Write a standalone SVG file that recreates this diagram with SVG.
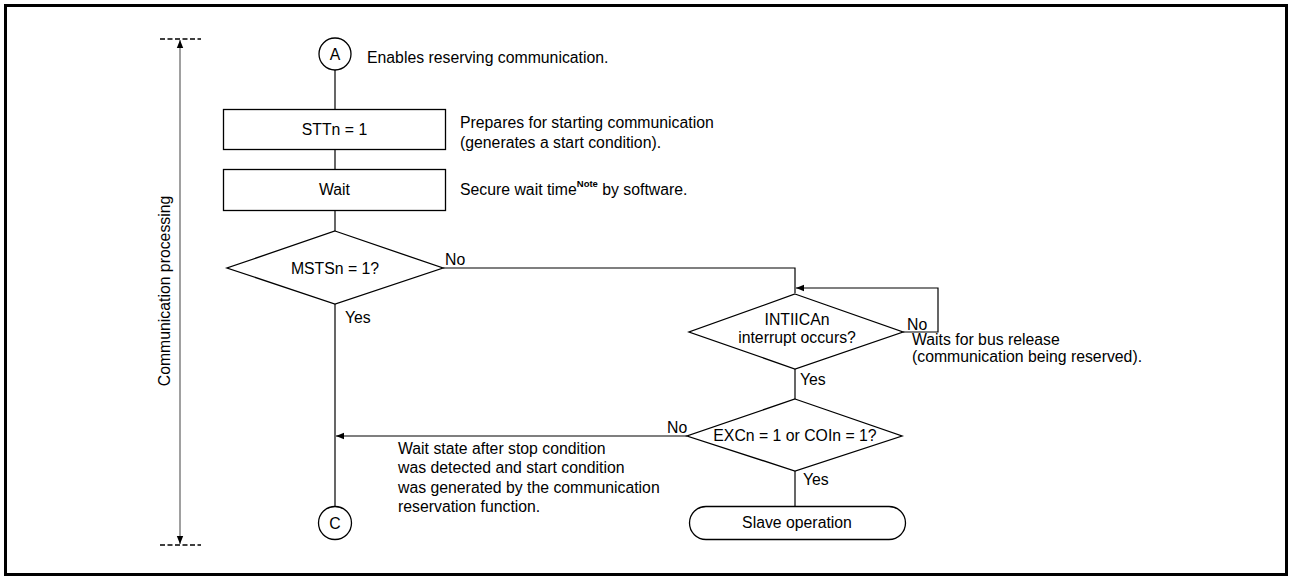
<svg xmlns="http://www.w3.org/2000/svg" width="1289" height="577" viewBox="0 0 1289 577">
  <style>
    text { font-family: "Liberation Sans", Arial, sans-serif; font-size: 15.8px; fill: #000; }
    .c { text-anchor: middle; }
    .shape { fill: #fff; stroke: #000; stroke-width: 1.3; }
    .line { fill: none; stroke: #000; stroke-width: 1.2; }
    .dim { fill: none; stroke: #808080; stroke-width: 1.5; }
    .dash { fill: none; stroke: #000; stroke-width: 1.5; stroke-dasharray: 5 2.5; }
  </style>
  <defs>
    <marker id="arrow" viewBox="0 0 10 10" refX="10" refY="5" markerWidth="10" markerHeight="8" markerUnits="userSpaceOnUse" orient="auto">
      <path d="M0,1 L10,5 L0,9 Z" fill="#000"/>
    </marker>
  </defs>

  <!-- frame -->
  <rect x="5.5" y="5.5" width="1281" height="569" fill="#fff" stroke="#000" stroke-width="3"/>

  <!-- extent of communication processing -->
  <g id="span">
    <line class="dash" x1="160" y1="39" x2="201" y2="39"/>
    <line class="dash" x1="160" y1="545" x2="201" y2="545"/>
    <line class="dim" x1="180" y1="292" x2="180" y2="40" marker-end="url(#arrow)"/>
    <line class="dim" x1="180" y1="292" x2="180" y2="544" marker-end="url(#arrow)"/>
    <text class="c" transform="translate(170 291) rotate(-90)" font-size="16.8">Communication processing</text>
  </g>

  <!-- connectors -->
  <g id="connectors">
    <line class="line" x1="335" y1="70" x2="335" y2="109"/>
    <line class="line" x1="335" y1="149" x2="335" y2="169"/>
    <line class="line" x1="335" y1="210" x2="335" y2="231"/>
    <line class="line" x1="335" y1="304" x2="335" y2="507"/>
    <polyline class="line" points="443,268 795,268 795,293"/>
    <polyline class="line" points="903,332 938,332 938,288 796,288" marker-end="url(#arrow)"/>
    <line class="line" x1="795" y1="369" x2="795" y2="399"/>
    <line class="line" x1="687" y1="436" x2="336" y2="436" marker-end="url(#arrow)"/>
    <line class="line" x1="795" y1="471" x2="795" y2="506"/>
    <text x="445" y="265">No</text>
    <text x="345" y="323">Yes</text>
    <text x="907" y="330">No</text>
    <text x="800" y="385">Yes</text>
    <text x="667" y="433">No</text>
    <text x="803" y="485">Yes</text>
  </g>

  <g id="nodeA">
    <circle class="shape" cx="335" cy="54" r="16"/>
    <text class="c" x="335" y="59.5">A</text>
    <text x="367" y="63">Enables reserving communication.</text>
  </g>

  <g id="nodeSTT">
    <rect class="shape" x="223.5" y="109.5" width="222" height="40"/>
    <text class="c" x="334.5" y="135">STTn = 1</text>
    <text x="460" y="128">Prepares for starting communication</text>
    <text x="460" y="148">(generates a start condition).</text>
  </g>

  <g id="nodeWait">
    <rect class="shape" x="223.5" y="169.5" width="222" height="41"/>
    <text class="c" x="334.5" y="195">Wait</text>
    <text x="460" y="195">Secure wait time<tspan dy="-8" font-size="9.5" font-weight="bold">Note</tspan><tspan dy="8"> by software.</tspan></text>
  </g>

  <g id="nodeMSTS">
    <polygon class="shape" points="335,231 443,268 335,304 227,268"/>
    <text class="c" x="335" y="274">MSTSn = 1?</text>
  </g>

  <g id="nodeINTIICA">
    <polygon class="shape" points="795,294 903,332 795,369 689,332"/>
    <text class="c" x="797" y="325">INTIICAn</text>
    <text class="c" x="797" y="343">interrupt occurs?</text>
    <text x="912" y="345">Waits for bus release</text>
    <text x="912" y="362">(communication being reserved).</text>
  </g>

  <g id="nodeEXC">
    <polygon class="shape" points="795,399 902,436 795,471 687,436"/>
    <text class="c" x="795" y="441">EXCn = 1 or COIn = 1?</text>
    <text x="398" y="454">Wait state after stop condition</text>
    <text x="398" y="473">was detected and start condition</text>
    <text x="398" y="493">was generated by the communication</text>
    <text x="398" y="512">reservation function.</text>
  </g>

  <g id="nodeSlave">
    <rect class="shape" x="689.5" y="506.5" width="216" height="33" rx="16.5"/>
    <text class="c" x="797" y="528">Slave operation</text>
  </g>

  <g id="nodeC">
    <circle class="shape" cx="335" cy="523" r="16.5"/>
    <text class="c" x="335" y="528.5">C</text>
  </g>
</svg>
